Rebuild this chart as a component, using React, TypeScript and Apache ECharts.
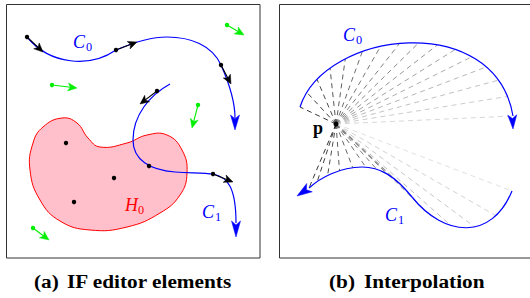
import React, { useEffect, useRef } from "react";
import * as echarts from "echarts";

type Pt = [number, number];
type Seg = [Pt, Pt, Pt, Pt];

const SERIF = "'Liberation Serif', 'DejaVu Serif', serif";

// ---- Panel (a): IF editor elements ----
const leftC0: Seg[] = [
  [[27, 37], [50, 65], [90, 68], [116, 50]],
  [[116, 50], [130, 44], [150, 37], [167, 37]],
  [[167, 37], [190, 37], [212, 45], [221, 65]],
  [[221, 65], [229, 83], [235, 100], [235, 118]],
];
const leftC0Tip: Pt = [235, 130];

const leftC1: Seg[] = [
  [[170, 84], [150, 95], [133, 115], [133, 140]],
  [[133, 140], [133, 160], [150, 170], [175, 172]],
  [[175, 172], [195, 173], [205, 173], [213, 174]],
  [[213, 174], [228, 177], [236, 188], [236, 223]],
];
const leftC1Tip: Pt = [236, 237];

const tangentArrows: [Pt, Pt][] = [
  [[27, 37], [43, 52]],
  [[116, 50], [137, 42]],
  [[221, 65], [231, 84]],
  [[157, 91], [140, 104]],
  [[213, 174], [233, 182]],
];
const plainDots: Pt[] = [[149, 166], [66, 143], [114, 178], [74, 202]];

const greenArrows: [Pt, Pt][] = [
  [[227, 25], [244, 35]],
  [[52, 85], [77, 88]],
  [[198, 105], [192, 128]],
  [[33, 228], [49, 240]],
];

const blobOutline: Pt[] = [
  [62, 118], [77, 123], [88, 138], [100, 147], [127, 143], [147, 135],
  [167, 135], [182, 150], [187, 173], [180, 195], [160, 213], [127, 227],
  [90, 230], [60, 221], [40, 200], [30, 170], [33, 143], [43, 127],
];

// ---- Panel (b): Interpolation ----
const rightC0: Seg[] = [[[300, 107], [325, 30], [495, 10], [513, 116]]];
const rightC0Tip: Pt = [513, 129];
const rightC1: Seg[] = [
  [[512, 191], [492, 240], [445, 238], [412, 197]],
  [[412, 197], [395, 176], [380, 167], [362, 167]],
  [[362, 167], [340, 167], [320, 178], [309, 188]],
];
const rightC1Tip: Pt = [297, 196];
const pCenter: Pt = [336, 124];
const rayCountC0 = 16;
const rayCountC1 = 15;

const captions: [string, number][] = [
  ["(a)", 34], ["IF editor elements", 67], ["(b)", 329], ["Interpolation", 364],
];

function bez(s: Seg, t: number): Pt {
  const u = 1 - t;
  const a = u * u * u, b = 3 * u * u * t, c = 3 * u * t * t, d = t * t * t;
  return [
    a * s[0][0] + b * s[1][0] + c * s[2][0] + d * s[3][0],
    a * s[0][1] + b * s[1][1] + c * s[2][1] + d * s[3][1],
  ];
}
function sampleSegs(segs: Seg[], t: number): Pt {
  const n = segs.length;
  const k = Math.min(n - 1, Math.floor(t * n));
  return bez(segs[k], t * n - k);
}

function curveEls(segs: Seg[], color: string, width: number) {
  return segs.map((s) => ({
    type: "bezierCurve",
    shape: {
      x1: s[0][0], y1: s[0][1], cpx1: s[1][0], cpy1: s[1][1],
      cpx2: s[2][0], cpy2: s[2][1], x2: s[3][0], y2: s[3][1],
    },
    style: { stroke: color, lineWidth: width, fill: null },
    z: 5,
  }));
}

function head(tip: Pt, from: Pt, len: number, hw: number, color: string, z = 8) {
  const dx = tip[0] - from[0], dy = tip[1] - from[1];
  const l = Math.hypot(dx, dy) || 1;
  const ux = dx / l, uy = dy / l;
  const nx = -uy, ny = ux;
  const bx = tip[0] - ux * len, by = tip[1] - uy * len;
  const notch: Pt = [tip[0] - ux * len * 0.75, tip[1] - uy * len * 0.75];
  return {
    type: "polygon",
    shape: {
      points: [tip, [bx + nx * hw, by + ny * hw], notch, [bx - nx * hw, by - ny * hw]],
    },
    style: { fill: color, stroke: color, lineWidth: 0.5 },
    z,
  };
}

function arrowWithDot(a: Pt, b: Pt, color: string, len: number, hw: number, r: number) {
  const dx = b[0] - a[0], dy = b[1] - a[1];
  const l = Math.hypot(dx, dy);
  const ex = b[0] - (dx / l) * len * 0.7, ey = b[1] - (dy / l) * len * 0.7;
  return [
    { type: "line", shape: { x1: a[0], y1: a[1], x2: ex, y2: ey }, style: { stroke: color, lineWidth: 1.1 }, z: 7 },
    head(b, a, len, hw, color),
    { type: "circle", shape: { cx: a[0], cy: a[1], r }, style: { fill: color }, z: 9 },
  ];
}

function subLabel(main: string, sub: string, x: number, y: number, color: string, size: number, bold = false) {
  return [
    {
      type: "text", x, y, z: 10,
      style: {
        text: main, fill: color, fontFamily: SERIF,
        fontStyle: bold ? "normal" : "italic", fontWeight: bold ? "bold" : "normal",
        fontSize: size, align: "left", verticalAlign: "middle",
      },
    },
    ...(sub
      ? [{
          type: "text", x: x + size * 0.72, y: y + size * 0.3, z: 10,
          style: {
            text: sub, fill: color, fontFamily: SERIF,
            fontSize: size * 0.68, align: "left", verticalAlign: "middle",
          },
        }]
      : []),
  ];
}

function grey(f: number) {
  const v = Math.round(30 + f * 200);
  return `rgb(${v},${v},${v})`;
}

export default function App() {
  const ref = useRef<HTMLDivElement>(null);
  useEffect(() => {
    if (!ref.current) return;
    const chart = echarts.init(ref.current, undefined, { renderer: "svg" });
    const els: any[] = [];
    // frames
    els.push({ type: "rect", shape: { x: 6.5, y: 4.5, width: 253.5, height: 253.5 }, style: { fill: "#fff", stroke: "#333", lineWidth: 1 }, z: 1 });
    els.push({ type: "rect", shape: { x: 279.5, y: 4.5, width: 260, height: 253.5 }, style: { fill: "#fff", stroke: "#333", lineWidth: 1 }, z: 1 });

    // blob H0
    els.push({
      type: "polygon",
      shape: { points: blobOutline, smooth: 0.45 },
      style: { fill: "#ffc0cb", stroke: "#ff0000", lineWidth: 1 },
      z: 2,
    });
    els.push(...subLabel("H", "0", 125, 205, "#ff0000", 18));

    // left curves
    els.push(...curveEls(leftC0, "#0000ff", 1.2));
    els.push(head(leftC0Tip, [235, 110], 15, 4.5, "#0000ff"));
    els.push(...curveEls(leftC1, "#0000ff", 1.2));
    els.push(head(leftC1Tip, [236, 215], 16, 4.5, "#0000ff"));
    tangentArrows.forEach(([a, b]) => els.push(...arrowWithDot(a, b, "#000", 9, 4, 2.2)));
    plainDots.forEach((p) => els.push({ type: "circle", shape: { cx: p[0], cy: p[1], r: 2.2 }, style: { fill: "#000" }, z: 9 }));
    greenArrows.forEach(([a, b]) => els.push(...arrowWithDot(a, b, "#00ee00", 9, 4, 2.2)));
    els.push(...subLabel("C", "0", 73, 42, "#0000ff", 18));
    els.push(...subLabel("C", "1", 202, 212, "#0000ff", 18));

    // right: rays
    for (let i = 0; i < rayCountC0; i++) {
      const t = i / (rayCountC0 - 1);
      const q = sampleSegs(rightC0, t);
      els.push({
        type: "line",
        shape: { x1: pCenter[0], y1: pCenter[1], x2: q[0], y2: q[1] },
        style: { stroke: grey(t * 0.9), lineWidth: 0.9, lineDash: [5, 4] },
        z: 3,
      });
    }
    for (let i = 0; i < rayCountC1; i++) {
      const t = i / (rayCountC1 - 1);
      const q = sampleSegs(rightC1, t);
      els.push({
        type: "line",
        shape: { x1: pCenter[0], y1: pCenter[1], x2: q[0], y2: q[1] },
        style: { stroke: grey((1 - t) * 0.95), lineWidth: 0.9, lineDash: [5, 4] },
        z: 3,
      });
    }
    els.push({ type: "circle", shape: { cx: pCenter[0], cy: pCenter[1], r: 2.5 }, style: { fill: "#000" }, z: 9 });
    els.push(...curveEls(rightC0, "#0000ff", 1.2));
    els.push(head(rightC0Tip, [512, 110], 14, 4.5, "#0000ff"));
    els.push(...curveEls(rightC1, "#0000ff", 1.2));
    els.push(head(rightC1Tip, [309, 188], 15, 5, "#0000ff"));
    els.push(...subLabel("C", "0", 343, 35, "#0000ff", 18));
    els.push(...subLabel("C", "1", 385, 215, "#0000ff", 18));
    els.push(...subLabel("p", "", 313, 128, "#000", 18, true));

    // captions
    captions.forEach(([text, x]) =>
      els.push({
        type: "text", x, y: 281, z: 10, scaleX: 1.12,
        style: { text, fill: "#000", fontFamily: SERIF, fontWeight: "bold", fontSize: 19, align: "left", verticalAlign: "middle" },
      })
    );

    chart.setOption({ animation: false, graphic: { elements: els } });
    return () => chart.dispose();
  }, []);
  return (
    <div
      ref={ref}
      style={{ position: "fixed", left: 0, top: 0, width: 530, height: 298, background: "#fff" }}
    />
  );
}
